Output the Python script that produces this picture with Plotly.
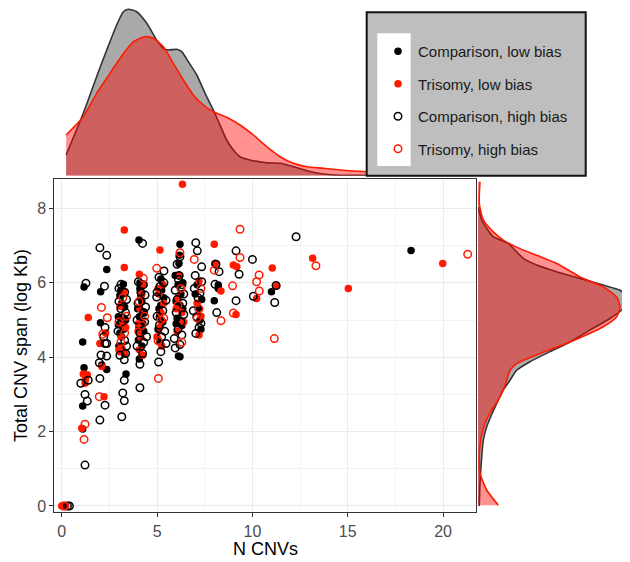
import plotly.graph_objects as go

# The page body has an 8px margin, so the figure is drawn 8px in from the top-left.
PAGE_W, PAGE_H, OFF = 630, 562, 8
W, H = PAGE_W - OFF, PAGE_H - OFF

# ---------------- scatter data (N CNVs, total CNV span in log Kb) ----------------
comp_low_x = [0.2, 1.1, 1.1, 1.17, 1.1, 1.17, 2.04, 2.36, 2.03, 2.1, 2.36, 3.37, 4.05, 4.07,
              6.2, 6.2, 6.17, 6.15, 8.04, 8.21, 8.0, 11.0, 18.32,
              3.23, 3.05, 2.97, 2.97, 3.14, 3.2, 3.3, 3.1, 3.25, 3.0,
              4.1, 4.2, 4.07, 4.25, 4.02, 4.15, 3.98, 4.3,
              5.24, 5.12, 5.2, 5.3, 5.05, 5.35, 5.15,
              6.1, 6.25, 6.0, 6.35, 6.05, 6.3, 6.12, 5.95,
              7.34, 7.16, 7.1, 7.25, 8.21,
              3.15, 3.35, 3.05, 4.1, 4.3, 4.05, 5.1, 5.3, 5.2, 6.2, 6.0, 6.35, 7.0, 7.3, 3.25, 4.2]
comp_low_y = [0.0, 2.07, 2.69, 3.72, 4.41, 5.89, 5.76, 6.36, 4.93, 3.79, 3.67, 3.55, 7.15, 3.95,
              7.04, 4.01, 6.74, 6.52, 6.52, 5.85, 5.52, 5.76, 6.87,
              5.96, 5.66, 5.09, 4.87, 4.55, 4.15, 5.35, 5.8, 4.75, 4.3,
              5.85, 5.49, 5.09, 4.9, 4.46, 5.65, 5.3, 4.7,
              5.8, 5.09, 5.4, 5.95, 4.75, 5.6, 4.4,
              5.95, 5.7, 5.5, 5.3, 5.05, 4.85, 4.03, 6.2,
              5.55, 5.31, 5.95, 5.0, 5.94,
              5.45, 5.0, 4.65, 6.0, 5.2, 4.8, 5.3, 4.95, 6.1, 5.4, 4.9, 6.0, 5.7, 4.75, 4.95, 4.3]

tri_low_x = [0.0, 1.05, 1.13, 1.34, 1.22, 1.25, 1.39, 2.22, 2.1, 2.0, 2.3,
             3.28, 3.28, 3.06, 3.2, 3.1, 3.0, 3.3, 3.15,
             4.07, 4.1, 4.02, 4.15, 4.07, 4.2,
             5.15, 5.1, 5.2, 5.0, 5.25, 5.3,
             6.33, 6.1, 6.3, 6.05, 6.4,
             7.2, 7.3, 7.2, 8.0, 8.04, 8.35, 9.0, 9.18, 9.14, 10.22,
             11.04, 11.27, 13.16, 15.03, 19.98,
             3.25, 3.35, 4.3, 4.0, 5.35, 5.05, 6.2, 6.0, 7.1, 3.05, 4.25, 5.15]
tri_low_y = [0.0, 2.09, 3.55, 3.53, 3.3, 3.42, 5.07, 2.94, 3.75, 4.37, 4.65,
             7.42, 6.41, 5.37, 4.9, 4.55, 4.2, 4.1, 4.25,
             6.23, 5.3, 4.9, 4.53, 4.2, 5.7,
             6.88, 5.7, 5.2, 4.55, 4.3, 5.95,
             8.65, 5.6, 5.2, 4.7, 4.95,
             6.05, 5.1, 4.6, 7.04, 6.52, 5.78, 6.48, 6.43, 5.15, 5.58,
             6.4, 5.91, 6.66, 5.85, 6.52,
             5.75, 4.8, 5.95, 4.7, 5.45, 5.85, 6.2, 5.3, 5.45, 4.15, 4.05, 4.8]

comp_high_x = [0.3, 0.4, 1.22, 1.22, 1.34, 1.0, 1.39, 1.27, 2.0, 2.36, 2.24, 2.27, 2.27,
               2.0, 2.0, 2.27, 1.97, 2.06, 2.36, 2.36, 2.2,
               3.15, 3.2, 3.28, 3.28, 3.28, 3.11, 3.3, 3.0, 3.35, 3.15, 2.95, 3.3, 3.05, 3.2, 3.4,
               4.24, 4.1, 4.1, 4.24, 4.02, 4.37, 4.3, 4.0, 4.35, 4.1, 3.95, 4.3, 4.28,
               5.36, 5.15, 5.36, 4.98, 5.47, 5.12, 5.24, 5.47, 5.08, 5.3, 5.0, 5.1,
               6.2, 6.2, 6.12, 5.95, 6.3, 6.05, 6.35, 6.0, 6.25, 6.1, 6.3, 5.9, 6.4, 6.15,
               7.03, 7.11, 7.34, 7.34, 6.95, 7.25, 7.08, 7.3, 7.03, 7.2, 7.0,
               8.25, 8.13, 8.04, 8.09, 9.14, 9.3, 9.14, 10.0, 10.05, 11.24, 11.17, 12.29,
               3.0, 3.4, 3.1, 4.15, 3.95, 4.4, 5.0, 5.4, 5.2, 6.05, 6.4, 5.95, 7.15, 6.9, 3.35, 4.45]
comp_high_y = [0.0, 0.0, 1.10, 3.0, 2.82, 3.3, 3.38, 5.99, 6.94, 6.74, 5.91, 4.8, 4.37,
               3.43, 2.31, 2.71, 3.85, 4.06, 4.03, 4.37, 4.55,
               2.4, 3.04, 2.83, 3.38, 3.93, 5.96, 5.75, 5.5, 5.2, 4.95, 4.7, 4.45, 4.05, 5.05, 4.3,
               7.06, 3.18, 3.81, 4.1, 6.03, 5.67, 5.2, 5.45, 4.95, 4.65, 4.3, 4.4, 5.95,
               6.32, 5.9, 6.0, 5.62, 5.53, 4.86, 4.55, 4.37, 3.87, 5.25, 5.75, 6.15,
               6.7, 4.34, 6.09, 5.8, 5.95, 5.55, 5.45, 5.2, 4.95, 4.75, 4.6, 4.5, 5.7, 6.2,
               7.08, 6.86, 6.43, 6.03, 5.85, 5.72, 5.09, 4.91, 4.64, 4.8, 6.2,
               6.3, 5.2, 5.96, 6.5, 6.86, 6.23, 5.52, 6.63, 5.64, 5.93, 5.47, 7.24,
               5.85, 5.55, 5.3, 5.75, 5.0, 5.35, 5.1, 4.7, 4.15, 6.5, 5.15, 4.25, 5.6, 5.25, 4.1, 4.55]

tri_high_x = [0.1, 0.15, 1.17, 1.22, 1.97, 2.08, 2.39, 2.15, 5.07, 4.98, 4.28, 3.2, 3.1, 3.3,
              4.05, 4.2, 6.2, 6.95, 5.2, 6.1, 6.3, 7.2, 8.0, 8.35, 8.96, 9.0, 9.35, 9.35,
              10.35, 10.22, 10.36, 11.15, 13.33, 21.29, 7.1,
              3.4, 4.35, 5.35, 6.25, 7.3, 5.05, 3.0]
tri_high_y = [0.0, 0.0, 1.79, 2.2, 2.94, 5.34, 5.06, 4.62, 3.43, 6.39, 6.12, 5.6, 4.4, 4.65,
              5.5, 4.85, 6.81, 6.63, 5.0, 5.4, 4.4, 5.3, 6.34, 4.98, 5.92, 5.19, 6.68, 7.44,
              6.21, 6.03, 5.78, 4.5, 6.46, 6.77, 5.05,
              5.1, 5.1, 5.05, 5.85, 5.85, 4.45, 4.95]

# ---------------- marginal densities (arbitrary units) ----------------
top_comp_x = [0.23, 1.13, 1.83, 2.36, 2.88, 3.23, 3.49, 3.93, 4.46, 4.98, 5.33, 5.59, 6.03, 6.29,
              6.64, 7.08, 7.6, 7.95, 8.3, 8.65, 9.0, 9.35, 9.87, 10.75, 11.45, 12.15, 12.85,
              13.72, 14.6, 16.0, 17.5, 18.32]
top_comp_d = [20.7, 62.4, 99, 125.7, 150.7, 164, 166.4, 164, 152.4, 135.7, 127.4, 125.7, 126.4, 124,
              114, 100.7, 79, 65.7, 50.7, 35.7, 25.7, 19, 15.7, 13, 12.4, 9, 5,
              1.7, 0.5, 0.3, 0.4, 0.6]
top_tri_x = [0.23, 1.13, 1.83, 2.36, 3.06, 3.76, 4.37, 4.8, 5.33, 5.85, 6.38, 6.9, 7.43, 7.95,
             8.65, 9.35, 10.05, 10.75, 11.45, 12.15, 12.85, 13.72, 14.6, 16.0, 17.5, 19.0, 20.0, 21.29]
top_tri_d = [40.7, 59, 82.4, 97.4, 117.4, 134, 139, 137.4, 129, 112.4, 95.7, 80.7, 70.7, 64,
             58.4, 50.7, 40.7, 29, 19, 12.4, 9, 7.4, 5.7, 4, 3, 2.8, 2.5, 1.5]

right_comp_y = [8.04, 7.69, 7.24, 7.06, 6.88, 6.66, 6.48, 6.30, 6.12, 5.94, 5.80, 5.58, 5.31, 5.04,
                4.73, 4.41, 4.15, 3.88, 3.65, 3.38, 3.12, 2.76, 2.40, 2.13, 1.77, 1.32, 0.61, 0.0]
right_comp_d = [0.3, 3.7, 15.3, 30.3, 37, 45.3, 58.7, 78.7, 102, 125.3, 142, 151.3, 145.3, 132,
                112, 92, 72, 52, 38.7, 32, 25.3, 18.7, 12.7, 8.7, 5.3, 3.7, 2, 1.3]
right_tri_y = [8.72, 8.13, 7.69, 7.37, 7.15, 6.92, 6.74, 6.52, 6.16, 5.89, 5.62, 5.35, 5.09, 4.82,
               4.41, 4.06, 3.83, 3.65, 3.38, 3.12, 2.85, 2.58, 2.22, 1.77, 1.23, 0.88, 0.43, 0.02]
right_tri_d = [2, 1.3, 5.3, 15.3, 25.3, 42, 58.7, 78.7, 102, 125.3, 138.7, 142, 138.7, 125.3,
               92, 58.7, 38.7, 32, 28.7, 25.3, 20.3, 13.7, 7, 2.7, 1.3, 2, 8.7, 20.3]

x_ticks = [0, 5, 10, 15, 20]
y_ticks = [0, 2, 4, 6, 8]
legend_labels = ["Comparison, low bias", "Trisomy, low bias",
                 "Comparison, high bias", "Trisomy, high bias"]

BLACK = "#000000"
RED = "#ff1a00"
FONT = "Liberation Sans, Arial, Helvetica, sans-serif"

fig = go.Figure()

# top marginal
fig.add_trace(go.Scatter(x=top_comp_x, y=top_comp_d, xaxis="x2", yaxis="y2", mode="lines",
                         fill="tozeroy", fillcolor="#a9a9a9",
                         line=dict(color="#333333", width=1.6, shape="spline", smoothing=0.6),
                         showlegend=False, hoverinfo="skip"))
fig.add_trace(go.Scatter(x=top_tri_x, y=top_tri_d, xaxis="x2", yaxis="y2", mode="lines",
                         fill="tozeroy", fillcolor="rgba(255,0,0,0.43)",
                         line=dict(color=RED, width=1.6, shape="spline", smoothing=0.6),
                         showlegend=False, hoverinfo="skip"))
# right marginal
fig.add_trace(go.Scatter(x=right_comp_d, y=right_comp_y, xaxis="x3", yaxis="y3", mode="lines",
                         fill="tozerox", fillcolor="#a9a9a9",
                         line=dict(color="#333333", width=1.6, shape="spline", smoothing=0.6),
                         showlegend=False, hoverinfo="skip"))
fig.add_trace(go.Scatter(x=right_tri_d, y=right_tri_y, xaxis="x3", yaxis="y3", mode="lines",
                         fill="tozerox", fillcolor="rgba(255,0,0,0.43)",
                         line=dict(color=RED, width=1.6, shape="spline", smoothing=0.6),
                         showlegend=False, hoverinfo="skip"))

# scatter groups
groups = [
    (comp_low_x, comp_low_y, legend_labels[0], dict(symbol="circle", size=7.5, color=BLACK)),
    (tri_low_x, tri_low_y, legend_labels[1], dict(symbol="circle", size=7.5, color=RED)),
    (comp_high_x, comp_high_y, legend_labels[2],
     dict(symbol="circle-open", size=7.5, color=BLACK, line=dict(width=1.5, color=BLACK))),
    (tri_high_x, tri_high_y, legend_labels[3],
     dict(symbol="circle-open", size=7.5, color=RED, line=dict(width=1.5, color=RED))),
]
for i, (gx, gy, name, mk) in enumerate(groups):
    fig.add_trace(go.Scatter(x=gx, y=gy, mode="markers", name=name, marker=mk,
                             xaxis="x", yaxis="y", legendgroup=f"g{i}"))


def px2x(p):
    return (p - OFF) / W


def py2y(p):
    return 1 - (p - OFF) / H


main_xdom = [px2x(54.3), px2x(475.7)]
main_ydom = [py2y(512.3), py2y(178.7)]
xr = [-0.39, 21.71]
yr = [-0.17, 8.80]

axis_common = dict(showline=True, mirror=True, linecolor="#333333", linewidth=1,
                   ticks="outside", ticklen=4, tickcolor="#333333", tickwidth=1,
                   gridcolor="#ebebeb", gridwidth=1, zeroline=False,
                   tickfont=dict(family=FONT, size=16, color="#4d4d4d"),
                   automargin=False)

fig.update_layout(
    width=W, height=H,
    margin=dict(l=0, r=0, t=0, b=0),
    paper_bgcolor="white", plot_bgcolor="white",
    font=dict(family=FONT),
    xaxis=dict(domain=main_xdom, range=xr, anchor="y", tickvals=x_ticks,
               minor=dict(dtick=2.5, tick0=0, showgrid=True, gridcolor="#f3f3f3", gridwidth=0.6, ticks=""),
               **axis_common),
    yaxis=dict(domain=main_ydom, range=yr, anchor="x", tickvals=y_ticks,
               minor=dict(dtick=1, tick0=0, showgrid=True, gridcolor="#f3f3f3", gridwidth=0.6, ticks=""),
               **axis_common),
    xaxis2=dict(domain=main_xdom, range=xr, anchor="y2", visible=False),
    yaxis2=dict(domain=[py2y(175.7), 1], range=[0, 175.7 - OFF], anchor="x2", visible=False),
    xaxis3=dict(domain=[px2x(478), 1], range=[0, 152], anchor="y3", visible=False),
    yaxis3=dict(domain=main_ydom, range=yr, anchor="x3", visible=False),
    legend=dict(x=px2x(378), y=py2y(35), xanchor="left", yanchor="top",
                bgcolor="rgba(0,0,0,0)", borderwidth=0,
                font=dict(family=FONT, size=15, color="#1a1a1a"),
                tracegroupgap=10, traceorder="grouped"),
    shapes=[
        dict(type="rect", xref="paper", yref="paper", layer="above",
             x0=px2x(366.7), x1=px2x(585.7), y0=py2y(175.7), y1=py2y(12.3),
             fillcolor="#bebebe", line=dict(color="#111111", width=2)),
        dict(type="rect", xref="paper", yref="paper", layer="above",
             x0=px2x(377.3), x1=px2x(410.7), y0=py2y(166), y1=py2y(33.3),
             fillcolor="white", line=dict(width=0)),
    ],
    annotations=[
        dict(text="N CNVs", xref="paper", yref="paper", x=px2x(265), y=py2y(549),
             xanchor="center", yanchor="middle", showarrow=False,
             font=dict(family=FONT, size=18, color="#000000")),
        dict(text="Total CNV span (log Kb)", xref="paper", yref="paper", x=px2x(20.5), y=py2y(345.5),
             xanchor="center", yanchor="middle", showarrow=False, textangle=-90,
             font=dict(family=FONT, size=18, color="#000000")),
    ],
)

fig.write_html("out.html")
